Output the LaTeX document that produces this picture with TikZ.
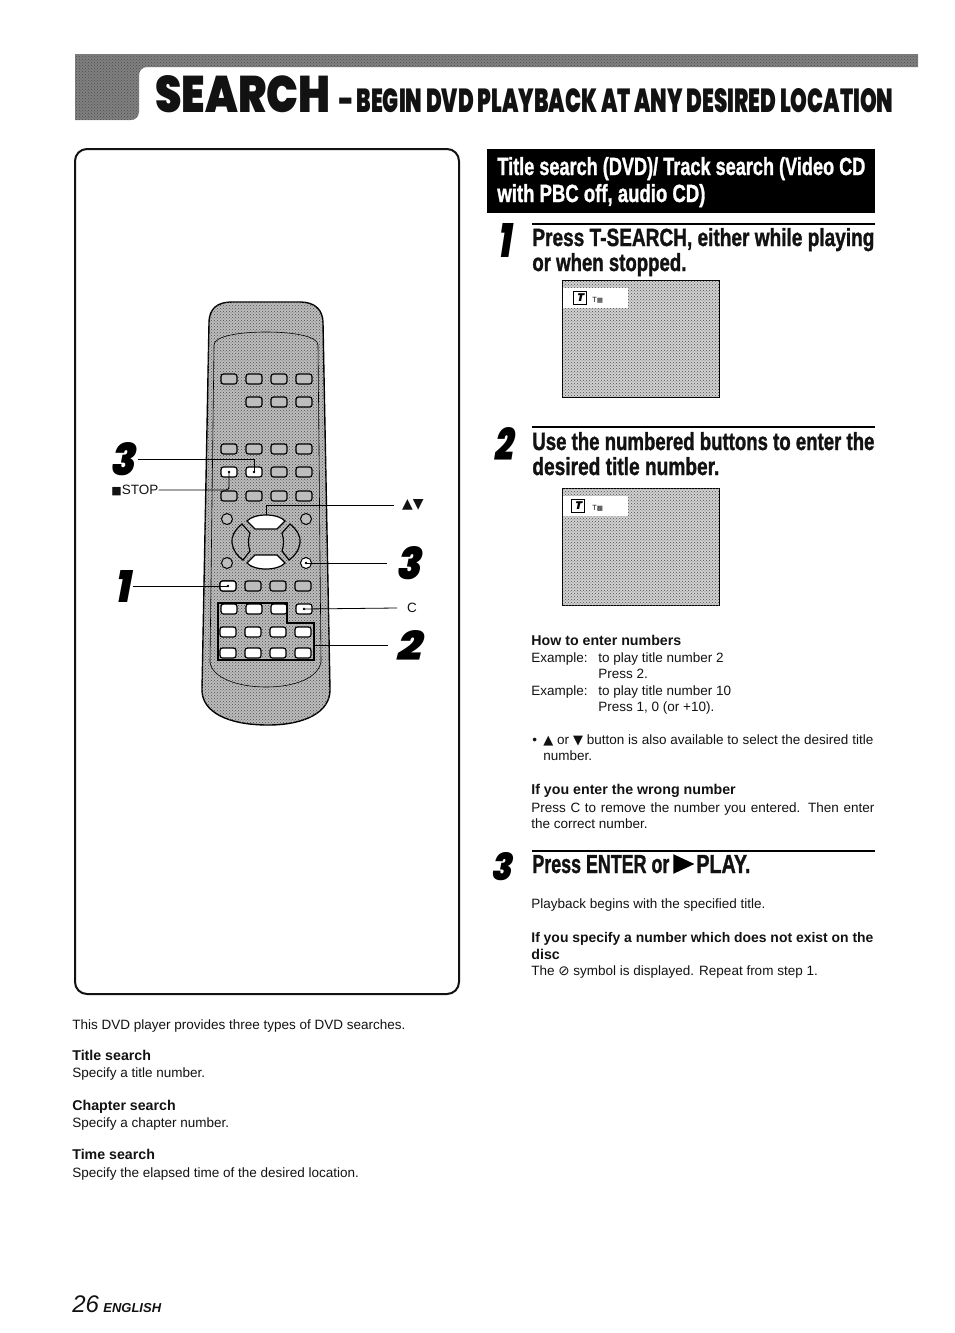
\documentclass[tikz,border=0pt]{standalone}
\usepackage{fontspec}
\usepackage{graphicx}
\usetikzlibrary{shapes.geometric,patterns}
\setmainfont{Liberation Sans}
\newfontfamily\headfont[FakeBold=1.5]{Liberation Sans Bold}
\newfontfamily\titlefont{Poppins Black}
\newfontfamily\symfont{DejaVu Sans}
\newfontfamily\numfont[FakeSlant=0.22]{Poppins Black}
\newcommand{\fitbox}[3]{\resizebox{#1pt}{#2pt}{#3}}
\newcommand{\fitw}[2]{\resizebox{#1pt}{!}{#2}}
\definecolor{barGray}{gray}{0.5}
\definecolor{remoteGray}{gray}{0.74}
\definecolor{screenGray}{gray}{0.82}
\definecolor{inkBlack}{gray}{0.07}
\tikzset{every picture/.style={line width=0.75pt},
	halftone/.style={postaction={pattern=crosshatch dots,pattern color=black!70}},
	txt/.style={anchor=base west,inner sep=0pt,text=inkBlack,font=\fontsize{13.5}{15}\selectfont},
	boldtxt/.style={txt,font=\fontsize{14.2}{15}\selectfont\bfseries},
	head/.style={anchor=base west,inner sep=0pt,text=inkBlack,font=\headfont},
	stepnum/.style={inner sep=0pt,text=black,font=\numfont},
	btn/.style={draw=black,fill=remoteGray,line width=1.2pt,rounded corners=2.5pt,minimum width=16pt,minimum height=10pt,inner sep=0pt},
	btnw/.style={btn,fill=white},
	knob/.style={circle,draw=black,fill=remoteGray,line width=1pt,minimum size=11pt,inner sep=0pt},
	padkey/.style={draw=black,line width=1.2pt},
	lead/.style={line width=0.8pt,draw=black},
	rule/.style={line width=1.1pt,draw=black},
	screen/.style={draw=black,fill=screenGray,halftone,line width=1pt,minimum width=157pt,minimum height=117pt,inner sep=0pt},
	osd/.style={fill=white,minimum width=65pt,minimum height=20pt,inner sep=0pt},
	osdicon/.style={draw=black,fill=white,line width=1.2pt,minimum size=13pt,inner sep=0pt,font=\numfont\fontsize{11}{11}\selectfont},
	osdtxt/.style={txt,font=\fontsize{7.5}{8}\selectfont}}
\begin{document}
\begin{tikzpicture}[x=1pt,y=-1pt]
	\useasboundingbox (0,0) rectangle (954,1333);
	% title band
	\fill[barGray,halftone] (75,54)--(918,54)--(918,67)--(800,67)[rounded corners=8pt]--(139,67)--(139,120)--(100,120)[sharp corners]--(75,120)--cycle;
	\node[head,font=\titlefont] (titleMain) at (155,112) {\fitbox{175}{37}{SEARCH}};
	\node[head,font=\titlefont] (titleSub) at (338,112) {\fitbox{555}{24}{– BEGIN DVD PLAYBACK AT ANY DESIRED LOCATION}};
	% frame
	\draw[line width=2pt,draw=inkBlack,rounded corners=12pt] (75,149) rectangle (459,994);
	% remote
	\draw[fill=remoteGray,halftone,line width=1.4pt] (209,323) .. controls (209,308) and (218,302) .. (232,302) -- (300,302) .. controls (315,302) and (323,310) .. (323,323)
		-- (330,690) .. controls (330,712) and (305,725) .. (268,725) .. controls (228,725) and (202,712) .. (202,690) -- cycle; %body
	\draw[line width=0.6pt] (214,345) .. controls (214,336) and (240,332) .. (266,332) .. controls (292,332) and (318,336) .. (318,345)
		-- (321,662) .. controls (318,678) and (295,687) .. (266,687) .. controls (238,687) and (212,678) .. (210,662) -- cycle; %inner line
	\foreach \n/\x in {a/229,b/254,c/279,d/304}{
		\node[btn] (rowA\n) at (\x,379) {};
		\node[btn] (rowC\n) at (\x,449) {};
		\node[btn] (rowE\n) at (\x,496) {};
		\node[btn] (rowF\n) at (\x-1,586) {};
		\node[btnw] (rowG\n) at (\x,609) {};
		\node[btnw] (rowH\n) at (\x-1,632) {};
		\node[btnw] (rowI\n) at (\x-1,653) {};
	}
	\foreach \n/\x in {b/254,c/279,d/304}{
		\node[btn] (rowB\n) at (\x,402) {};
	}
	\node[btnw] (rowDa) at (229,472) {};
	\node[btnw] (rowDb) at (254,472) {};
	\node[btn] (rowDc) at (279,472) {};
	\node[btn] (rowDd) at (304,472) {};
	\node[btnw] (rowFa) at (228,586) {};
	\node[knob] (knobA) at (227,519) {};
	\node[knob] (knobB) at (306,519) {};
	\node[knob] (knobC) at (227,563) {};
	\node[knob,fill=white] (knobD) at (306,563) {};
	% direction keys
	\draw[padkey] (242,524) .. controls (235,530) and (231,536) .. (232,543) .. controls (233,550) and (237,556) .. (243,560) -- (250,551) .. controls (248,545) and (248,539) .. (250,533) -- cycle;
	\draw[padkey] (290,524) .. controls (297,530) and (301,536) .. (300,543) .. controls (299,550) and (295,556) .. (289,560) -- (282,551) .. controls (284,545) and (284,539) .. (282,533) -- cycle;
	\draw[padkey,fill=white] (247,521) .. controls (254,513) and (278,513) .. (285,521) -- (277,529) -- (255,529) -- cycle;
	\draw[padkey,fill=white] (247,563) .. controls (254,571) and (278,571) .. (285,563) -- (277,555) -- (255,555) -- cycle;
	\coordinate (padUp) at (266,515);
	\draw[line width=1.4pt] (218,603)--(287,603)--(287,623)--(314,623)--(314,660)--(218,660)--cycle; %number block
	% leaders
	\node[stepnum,outer xsep=3pt] (numThreeA) at (122,459) {\fitbox{25}{33}{3}};
	\node[stepnum,outer xsep=3pt] (numOne) at (122,586) {\fitbox{15}{32}{1}};
	\node[stepnum,outer xsep=9pt] (numThreeB) at (408,563) {\fitbox{25}{33}{3}};
	\node[stepnum,outer xsep=8pt] (numTwo) at (408,645) {\fitbox{25}{30}{2}};
	\node[txt,anchor=west] (stopLbl) at (111,490) {{\symfont\fontsize{11}{11}\selectfont ■}STOP};
	\node[txt,anchor=west,outer xsep=8pt,font=\symfont\fontsize{14}{14}\selectfont] (arrowLbl) at (394,505) {▲▼};
	\node[txt,anchor=west,outer xsep=10pt] (clearLbl) at (397,608) {C};
	\draw[lead] (numThreeA.east)-|(rowDb.center);
	\draw[lead,rounded corners=3pt] (stopLbl.east)-|(rowDa.center);
	\draw[lead] (arrowLbl.west)-|(padUp);
	\draw[lead,line width=1pt] (numThreeB.west)--(knobD.center);
	\draw[lead,line width=1pt] (numOne.east)--(rowFa.center);
	\draw[lead] (clearLbl.west)--(rowGd.center);
	\draw[lead,line width=1pt] (numTwo.west)--(314,645);
	\foreach \b in {rowDa,rowDb,rowFa,rowGd}{\fill (\b) circle (1.4pt);}
	\fill (knobD) circle (1.4pt);
	% caption
	\node[txt] (introLine) at (72,1029) {This DVD player provides three types of DVD searches.};
	\node[boldtxt] (titleHead) at (72,1060) {Title search};
	\node[txt] (titleText) at (72,1077) {Specify a title number.};
	\node[boldtxt] (chapterHead) at (72,1110) {Chapter search};
	\node[txt] (chapterText) at (72,1127) {Specify a chapter number.};
	\node[boldtxt] (timeHead) at (72,1159) {Time search};
	\node[txt] (timeText) at (72,1177) {Specify the elapsed time of the desired location.};
	\node[txt,font=\fontsize{24}{26}\selectfont\itshape] (pageNum) at (72,1312) {26};
	\node[txt,font=\fontsize{13}{15}\selectfont\bfseries\itshape] (pageLang) at (103,1312) {ENGLISH};
	% banner
	\fill[black] (487,149) rectangle (875,213);
	\node[head,text=white] (bannerA) at (497,175) {\fitbox{368}{18}{Title search (DVD)/ Track search (Video CD}};
	\node[head,text=white] (bannerB) at (497,202) {\fitbox{208}{18}{with PBC off, audio CD)}};
	% step 1
	\node[stepnum] (stepOne) at (504,240) {\fitbox{13}{34}{1}};
	\draw[rule] (532,224)--(875,224);
	\node[head] (stepOneA) at (532,246) {\fitbox{342}{18}{Press T-SEARCH, either while playing}};
	\node[head] (stepOneB) at (532,271) {\fitbox{154}{18}{or when stopped.}};
	\node[screen,anchor=north west] (screenA) at (562,280) {};
	\node[osd,anchor=north west] (osdA) at (563,288) {};
	\node[osdicon] (iconA) at (580,298) {T};
	\node[osdtxt] (osdTextA) at (592,302) {T{\symfont\fontsize{6.5}{7}\selectfont ▦}};
	% step 2
	\node[stepnum] (stepTwo) at (503,444) {\fitbox{19}{33}{2}};
	\draw[rule] (532,427)--(875,427);
	\node[head] (stepTwoA) at (532,450) {\fitbox{342}{18}{Use the numbered buttons to enter the}};
	\node[head] (stepTwoB) at (532,475) {\fitbox{187}{18}{desired title number.}};
	\node[screen,anchor=north west] (screenB) at (562,488) {};
	\node[osd,anchor=north west] (osdB) at (563,496) {};
	\node[osdicon] (iconB) at (578,506) {T};
	\node[osdtxt] (osdTextB) at (592,510) {T{\symfont\fontsize{6.5}{7}\selectfont ▩}};
	\node[boldtxt] (enterHead) at (531,645) {How to enter numbers};
	\node[txt] (exampleA) at (531,662) {Example:};
	\node[txt] (exampleAa) at (598,662) {to play title number 2};
	\node[txt] (exampleAb) at (598,678) {Press 2.};
	\node[txt] (exampleB) at (531,695) {Example:};
	\node[txt] (exampleBa) at (598,695) {to play title number 10};
	\node[txt] (exampleBb) at (598,711) {Press 1, 0 (or +10).};
	\node[txt] (bulletDot) at (532,744) {•};
	\node[txt] (bulletA) at (543,744) {\makebox[330pt][s]{{\symfont\fontsize{13}{13}\selectfont ▲} or {\symfont\fontsize{13}{13}\selectfont ▼} button is also available to select the desired title}};
	\node[txt] (bulletB) at (543,760) {number.};
	\node[boldtxt] (wrongHead) at (531,794) {If you enter the wrong number};
	\node[txt] (wrongA) at (531,812) {\makebox[343pt][s]{Press C to remove the number you entered.  Then enter}};
	\node[txt] (wrongB) at (531,828) {the correct number.};
	% step 3
	\node[stepnum] (stepThree) at (501,867) {\fitbox{21}{28}{3}};
	\draw[rule] (532,851)--(875,851);
	\node[head] (stepThreeA) at (532,873) {\fitbox{137}{18}{Press ENTER or}};
	\node[isosceles triangle,fill=black,minimum height=21pt,minimum width=12pt,inner sep=0pt,isosceles triangle apex angle=50,anchor=west] (playMark) at (673,864) {};
	\node[head] (stepThreeB) at (696,873) {\fitbox{54}{18}{PLAY.}};
	\node[txt] (playText) at (531,908) {Playback begins with the specified title.};
	\node[boldtxt] (noneHead) at (531,942) {\fitw{342}{If you specify a number which does not exist on the}};
	\node[boldtxt] (noneHeadB) at (531,959) {disc};
	\node[txt] (noneText) at (531,975) {The {\symfont ⊘} symbol is displayed. Repeat from step 1.};
\end{tikzpicture}
\end{document}
